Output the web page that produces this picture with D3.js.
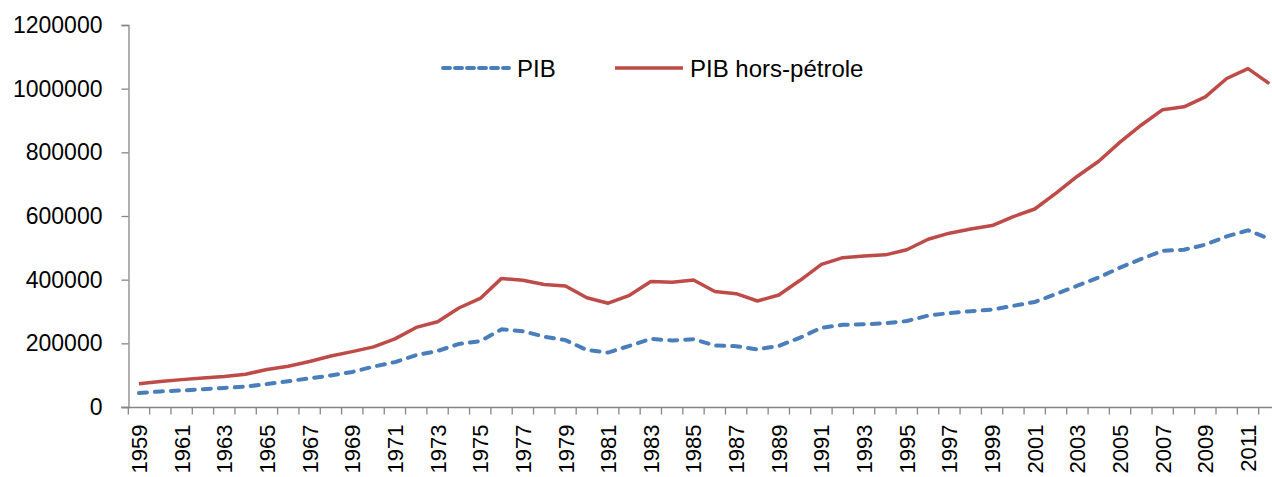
<!DOCTYPE html>
<html>
<head>
<meta charset="utf-8">
<script src="https://cdn.jsdelivr.net/npm/d3@7"></script>
<style>
  body { margin: 0; background: #fff; }
  svg { display: block; font-family: "Liberation Sans", Arial, sans-serif; }
</style>
</head>
<body>
<script>
var years = d3.range(1959, 2013);

var pib = [44000, 49000, 52000, 56000, 60000, 64000, 72000, 81000, 90000, 99000,
  110000, 127000, 141000, 163000, 176000, 198000, 207000, 244000, 238000, 221000,
  210000, 179000, 171000, 192000, 214000, 209000, 213000, 193000, 191000, 181000,
  192000, 218000, 249000, 258000, 260000, 263000, 270000, 287000, 295000, 301000,
  306000, 318000, 330000, 355000, 381000, 407000, 438000, 465000, 491000, 494000,
  510000, 536000, 555000, 528000];

var horsPetrole = [73000, 80000, 86000, 91000, 96000, 103000, 118000, 128000, 143000, 160000,
  174000, 189000, 214000, 250000, 268000, 311000, 341000, 404000, 398000, 385000,
  380000, 343000, 326000, 351000, 394000, 392000, 399000, 363000, 356000, 333000,
  352000, 398000, 448000, 469000, 474000, 478000, 494000, 527000, 546000, 559000,
  570000, 598000, 622000, 672000, 725000, 772000, 832000, 886000, 934000, 943000,
  974000, 1032000, 1063000, 1016000];

var yTicks = [0, 200000, 400000, 600000, 800000, 1000000, 1200000];
var seriesNames = ["PIB", "PIB hors-pétrole"];

var W = 1272, H = 477;
var svg = d3.select("body").append("svg").attr("width", W).attr("height", H);

var x = d3.scaleBand().domain(years).range([128.3, 1280]).padding(0);
var y = d3.scaleLinear().domain([0, 1200000]).range([407, 25]);

var axisColor = "#868686";
var blue = "#4a7ebb", red = "#be4b48";

// y axis
var gy = svg.append("g").attr("transform", "translate(128.5,0)")
  .call(d3.axisLeft(y).tickValues(yTicks).tickSize(7).tickPadding(19).tickFormat(d3.format("d")));
gy.select(".domain").attr("stroke", axisColor).attr("stroke-width", 1.3);
gy.selectAll(".tick line").attr("stroke", axisColor).attr("stroke-width", 1.3);
gy.selectAll(".tick text").attr("font-size", 23).attr("fill", "#000")
  .attr("font-family", "Liberation Sans, Arial, sans-serif");

// x axis: a tick at every category boundary, a label every other year
var gx = svg.append("g").attr("transform", "translate(0,407.5)");
gx.append("line").attr("x1", 121).attr("x2", 1280).attr("stroke", axisColor).attr("stroke-width", 1.3);
gx.selectAll("line.tk").data(years.concat([2013])).enter().append("line")
  .attr("class", "tk")
  .attr("x1", function (d) { return 128.3 + (d - 1959) * x.step(); })
  .attr("x2", function (d) { return 128.3 + (d - 1959) * x.step(); })
  .attr("y1", 0).attr("y2", 7)
  .attr("stroke", axisColor).attr("stroke-width", 1.3);
gx.selectAll("text").data(years.filter(function (d) { return (d - 1959) % 2 === 0; })).enter().append("text")
  .attr("transform", function (d) { return "translate(" + (x(d) + x.bandwidth() / 2 + 8) + ",17) rotate(-90)"; })
  .attr("text-anchor", "end")
  .attr("font-size", 22)
  .text(function (d) { return d; });

var line = d3.line()
  .x(function (d, i) { return x(years[i]) + x.bandwidth() / 2; })
  .y(function (d) { return y(d); });

svg.append("path").datum(pib)
  .attr("d", line).attr("fill", "none")
  .attr("stroke", blue).attr("stroke-width", 4)
  .attr("stroke-dasharray", "8,8").attr("stroke-linecap", "round");

svg.append("path").datum(horsPetrole)
  .attr("d", line).attr("fill", "none")
  .attr("stroke", red).attr("stroke-width", 3.5)
  .attr("stroke-linejoin", "round");

// legend
var lg = svg.append("g");
lg.append("line").attr("x1", 443).attr("x2", 509).attr("y1", 68).attr("y2", 68)
  .attr("stroke", blue).attr("stroke-width", 4)
  .attr("stroke-dasharray", "7,5").attr("stroke-linecap", "round");
lg.append("text").attr("x", 517).attr("y", 77).attr("font-size", 24).text(seriesNames[0]);
lg.append("line").attr("x1", 615).attr("x2", 683).attr("y1", 68).attr("y2", 68)
  .attr("stroke", red).attr("stroke-width", 3.5);
lg.append("text").attr("x", 690).attr("y", 77).attr("font-size", 24).text(seriesNames[1]);
</script>
</body>
</html>
